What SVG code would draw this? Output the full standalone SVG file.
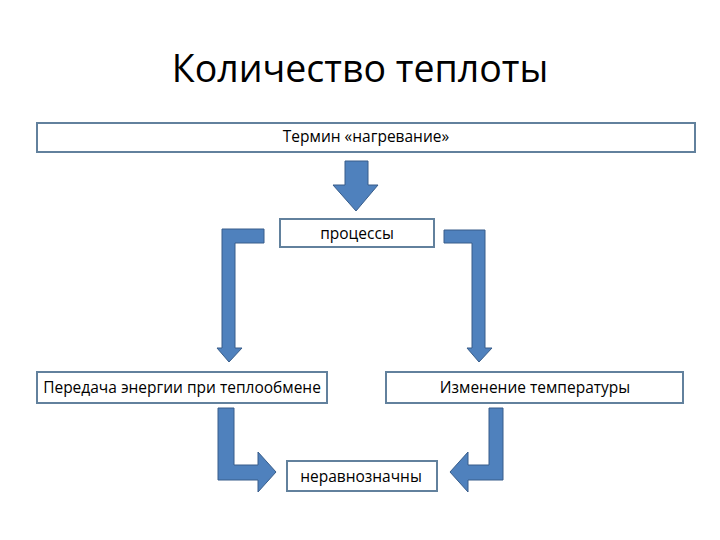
<svg xmlns="http://www.w3.org/2000/svg" width="720" height="540" viewBox="0 0 720 540">
<style>
.box{fill:#fff;stroke:#62819d;stroke-width:2}
.t{font-family:"Open Sans","Liberation Sans",Arial,sans-serif;font-size:15.5px;fill:#000;text-anchor:middle}
.arr{fill:#4f81bd;stroke:#385d8a;stroke-width:1}
</style>
<rect width="720" height="540" fill="#fff"/>
<text x="360" y="82" font-family="'Open Sans','Liberation Sans',Arial,sans-serif" font-size="37.5" text-anchor="middle" fill="#000">Количество теплоты</text>
<g id="connectors">
<path class="arr" d="M345,161 H368 V185 H378 L356,211 L333,185 H345 Z"/>
<path class="arr" d="M264,229 V243 H235 V348 H242 L229,362 L217,348 H222 V229 Z"/>
<path class="arr" d="M444,230 V243 H472 V348 H467 L479,362 L492,348 H485 V230 Z"/>
<path class="arr" d="M218,408 H234 V465 H258 V452 L276,472 L258,492 V480 H218 Z"/>
<path class="arr" d="M503,408 H489 V465 H468 V452 L450,472 L468,492 V480 H503 Z"/>
</g>
<g id="term">
<rect class="box" x="37" y="123" width="658" height="29"/>
<text class="t" x="366" y="142">Термин «нагревание»</text>
</g>
<g id="processes">
<rect class="box" x="280" y="219" width="154" height="28"/>
<text class="t" x="357" y="239">процессы</text>
</g>
<g id="transfer">
<rect class="box" x="37" y="372" width="290" height="31"/>
<text class="t" x="182" y="393">Передача энергии при теплообмене</text>
</g>
<g id="temp">
<rect class="box" x="386" y="372" width="297" height="31"/>
<text class="t" x="535" y="393">Изменение температуры</text>
</g>
<g id="unequal">
<rect class="box" x="287" y="461" width="150" height="30"/>
<text class="t" x="361" y="482">неравнозначны</text>
</g>
</svg>
